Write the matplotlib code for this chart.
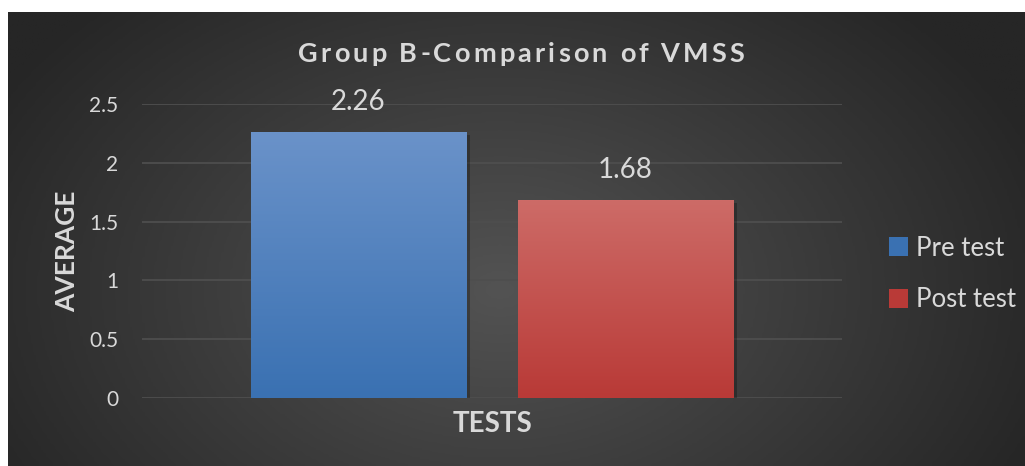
import matplotlib.pyplot as plt
import numpy as np
from matplotlib.colors import LinearSegmentedColormap

# Chart data
title = "Group B-Comparison of VMSS"
category = "TESTS"
series_names = ["Pre test", "Post test"]
series_values = [2.26, 1.68]
y_ticks = [0, 0.5, 1, 1.5, 2, 2.5]
y_tick_labels = ["0", "0.5", "1", "1.5", "2", "2.5"]

# Colours (top, bottom) of the gradient fill for each series
bar_colors = [("#6A92C9", "#3A71B2"), ("#CD6B67", "#B93A37")]
text_color = "#D9D9D9"

plt.rcParams["font.family"] = ["Lato", "DejaVu Sans"]

fig = plt.figure(figsize=(10.25, 4.66), dpi=100)
fig.patch.set_facecolor("white")

# Dark background with a radial gradient
bg_ax = fig.add_axes([8 / 1025, 0, 1017 / 1025, 454 / 466], zorder=-5)
gx, gy = np.meshgrid(np.linspace(8, 1025, 400), np.linspace(12, 466, 200))
dist = np.sqrt(((gx - 500) / 580) ** 2 + ((gy - 290) / 400) ** 2)
dist = np.clip(dist, 0, 1)
bg_cmap = LinearSegmentedColormap.from_list("bg", ["#535353", "#262626"])
bg_ax.imshow(dist, cmap=bg_cmap, aspect="auto", extent=(0, 1, 0, 1),
             origin="upper", vmin=0, vmax=1)
bg_ax.set_axis_off()

# Main plot area
ax = fig.add_axes([142 / 1025, 68 / 466, 700 / 1025, 294 / 466])
ax.patch.set_alpha(0)

bar_width = 0.617
offsets = [-0.3815, 0.3815]

for name, value, offset, (c_top, c_bot) in zip(series_names, series_values, offsets, bar_colors):
  # Soft shadow behind the bar
  ax.bar(offset + 0.01, value, width=bar_width, bottom=-0.02,
         color="black", alpha=0.25, zorder=2, linewidth=0)
  bar = ax.bar(offset, value, width=bar_width, color=c_bot, label=name,
               zorder=3, linewidth=0)[0]
  # Vertical gradient fill clipped to the bar
  grad_cmap = LinearSegmentedColormap.from_list(name, [c_bot, c_top])
  grad = np.linspace(0, 1, 100).reshape(-1, 1)
  img = ax.imshow(grad, cmap=grad_cmap, aspect="auto", origin="lower",
                  extent=(offset - bar_width / 2, offset + bar_width / 2, 0, value),
                  zorder=4)
  img.set_clip_path(bar)
  ax.text(offset, value + 0.255, f"{value:.2f}", ha="center", va="center",
          color=text_color, fontsize=20)

ax.set_xlim(-1, 1)
ax.set_ylim(0, 2.5)
ax.set_yticks(y_ticks)
ax.set_yticklabels(y_tick_labels)
ax.set_xticks([])
ax.tick_params(axis="y", length=0, pad=17, labelsize=15, labelcolor=text_color)
ax.yaxis.grid(True, color="#4E4E4E", linewidth=1.3, zorder=0)
ax.set_axisbelow(True)
for spine in ax.spines.values():
  spine.set_visible(False)

ax.set_ylabel("AVERAGE", fontsize=19, fontweight="bold", color=text_color, labelpad=7)
ax.set_xlabel(category, fontsize=20, fontweight="bold", color=text_color, labelpad=9)

# Title with extra letter spacing, drawn glyph by glyph
renderer = fig.canvas.get_renderer()
title_size = 19.5
spacing_px = 3.2
glyphs = []
widths = []
for ch in title:
  t = fig.text(0, 0, ch, fontsize=title_size, fontweight="bold", color=text_color,
               ha="left", va="center")
  w = t.get_window_extent(renderer).width if ch != " " else title_size * 0.32
  glyphs.append(t)
  widths.append(w)
total = sum(widths) + spacing_px * (len(title) - 1)
x_px = 521 - total / 2
for t, w in zip(glyphs, widths):
  t.set_position((x_px / 1025, 1 - 54 / 466))
  x_px += w + spacing_px

legend = fig.legend(loc="center left", bbox_to_anchor=(866 / 1025, 1 - 274 / 466),
                    frameon=False, fontsize=18.5, labelcolor=text_color,
                    handlelength=0.75, handleheight=0.75, handletextpad=0.3,
                    labelspacing=1.05)

fig.savefig("out.png", dpi=100)
